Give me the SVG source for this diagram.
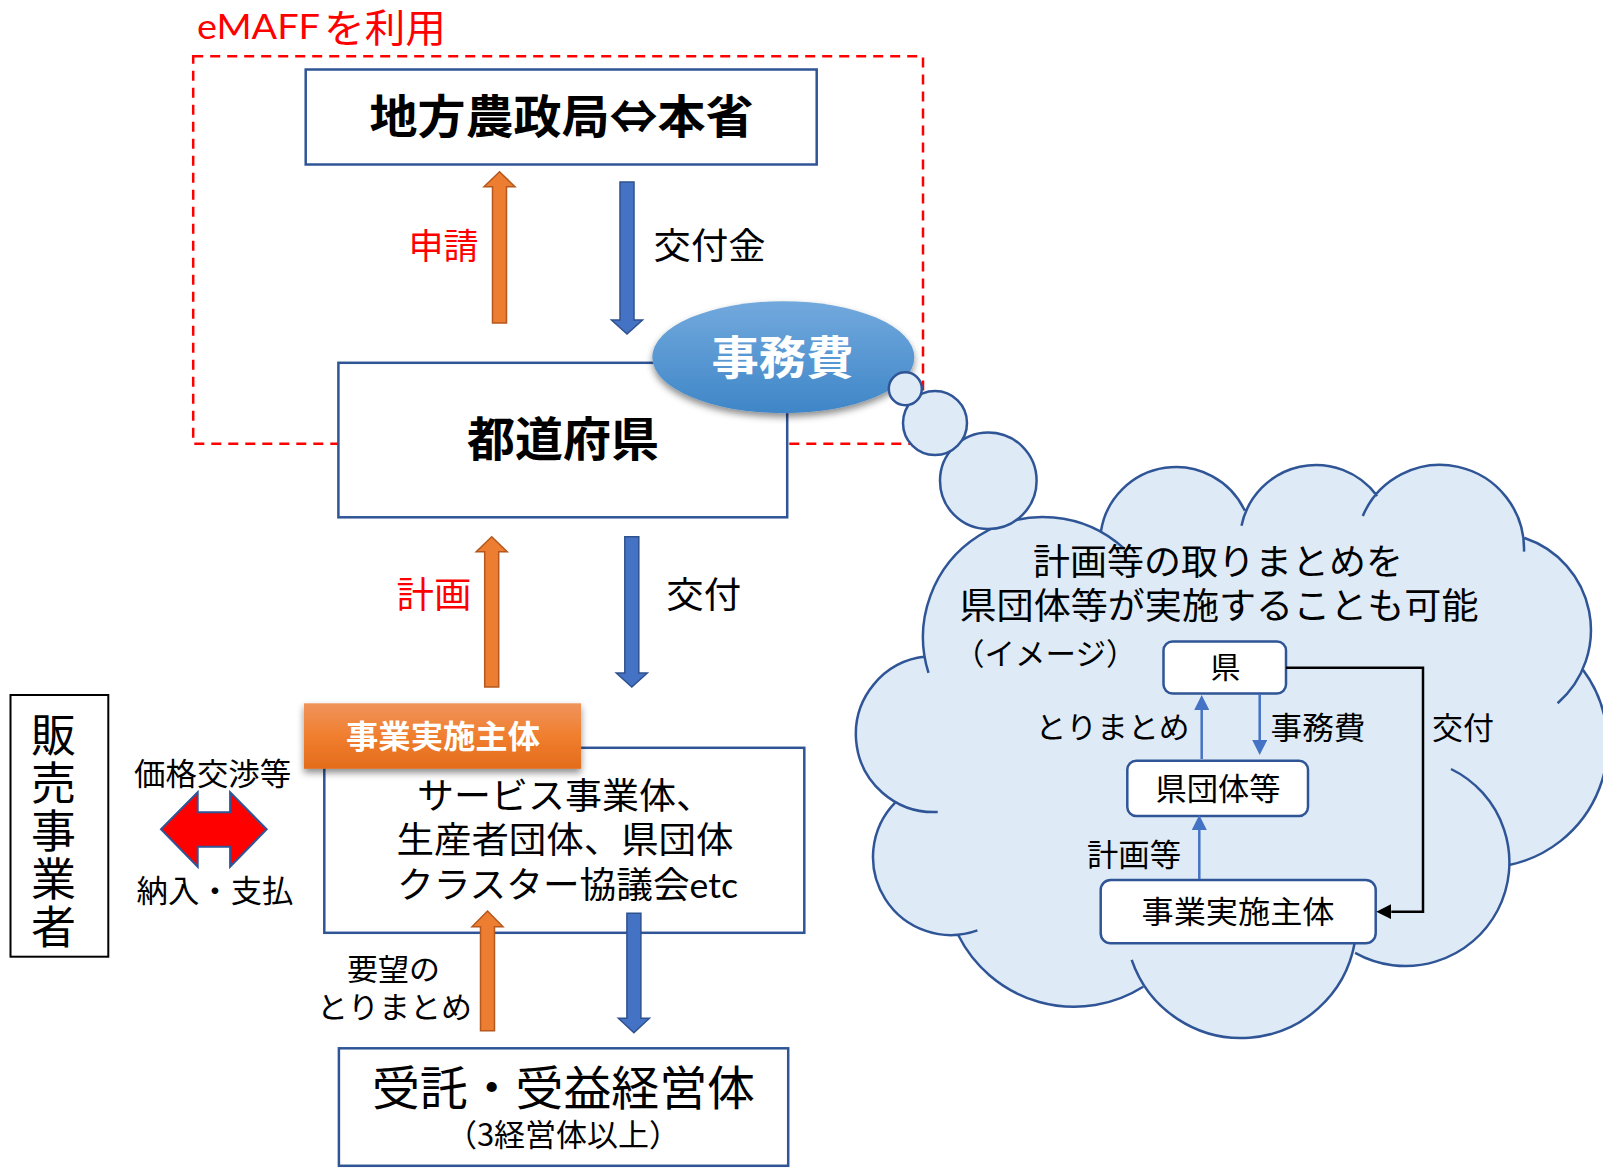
<svg xmlns="http://www.w3.org/2000/svg" width="1603" height="1168" viewBox="0 0 1603 1168">
<style>
.jp{font-family:'Noto Sans CJK JP','Noto Sans CJK SC',sans-serif}
.lat{font-family:Lato,'Noto Sans CJK JP',sans-serif}
.k{fill:#000}
.r{fill:#FF0000}
.w{fill:#fff}
.b{font-weight:700}
.box{fill:#fff;stroke:#2F5597;stroke-width:2.5}
.rbox{fill:#fff;stroke:#2F5597;stroke-width:2.5}
.oa{fill:#ED7D31;stroke:#B4581E;stroke-width:1.5}
.ba{fill:#4472C4;stroke:#2F528F;stroke-width:1.5}
.cf{fill:#DEEBF7}
.cl{fill:none;stroke:#2F5597;stroke-width:2.5}
.bub{fill:#DEEBF7;stroke:#2F5597;stroke-width:2.5}
.thin{fill:none;stroke:#4472C4;stroke-width:2.5}
.blk{fill:none;stroke:#000;stroke-width:2.5}
</style>
<defs>
<linearGradient id="gEll" x1="0" y1="0" x2="0" y2="1">
<stop offset="0" stop-color="#72A9DD"/>
<stop offset="1" stop-color="#3F86C8"/>
</linearGradient>
<linearGradient id="gOr" x1="0" y1="0" x2="0" y2="1">
<stop offset="0" stop-color="#F0945C"/>
<stop offset="0.5" stop-color="#F07E2E"/>
<stop offset="1" stop-color="#E36C1C"/>
</linearGradient>
<filter id="sh" x="-20%" y="-20%" width="140%" height="160%">
<feDropShadow dx="0" dy="4" stdDeviation="3.5" flood-color="#000" flood-opacity="0.45"/>
</filter>
<marker id="mB" markerUnits="userSpaceOnUse" markerWidth="16" markerHeight="15" refX="0" refY="7.5" orient="auto">
<path d="M0,0 L15,7.5 L0,15 Z" fill="#4472C4"/>
</marker>
<marker id="mK" markerUnits="userSpaceOnUse" markerWidth="16" markerHeight="15" refX="0" refY="7.5" orient="auto">
<path d="M0,0 L15,7.5 L0,15 Z" fill="#000"/>
</marker>
</defs>

<rect width="1603" height="1168" fill="#fff"/>

<g id="emaff">
<text class="r"><tspan class="lat" x="197" y="39" font-size="34" textLength="123" lengthAdjust="spacingAndGlyphs">eMAFF</tspan><tspan class="jp" x="324" y="41.5" font-size="39" textLength="122" lengthAdjust="spacingAndGlyphs">を利用</tspan></text>
<rect x="193.2" y="56.2" width="729.8" height="387.5" fill="none" stroke="#FF0000" stroke-width="2.5" stroke-dasharray="10 7"/>
</g>

<g id="honsho">
<rect class="box" x="305.7" y="69.5" width="511" height="95"/>
<text class="jp k b" x="561.5" y="133" font-size="46" text-anchor="middle" textLength="384" lengthAdjust="spacingAndGlyphs">地方農政局⇔本省</text>
</g>

<g id="todofuken">
<rect class="box" x="338.4" y="362.8" width="448.8" height="154.5"/>
<text class="jp k b" x="563" y="456.4" font-size="47" text-anchor="middle" textLength="192" lengthAdjust="spacingAndGlyphs">都道府県</text>
</g>

<g id="jimuhi">
<ellipse cx="783.3" cy="357.2" rx="131" ry="56" fill="url(#gEll)" filter="url(#sh)"/>
<text class="jp w b" x="782.5" y="373.5" font-size="46" text-anchor="middle" textLength="142" lengthAdjust="spacingAndGlyphs">事務費</text>
</g>

<g id="cloud">
<g class="cf">
<circle cx="935" cy="734" r="78"/>
<circle cx="1043" cy="637" r="120"/>
<circle cx="1176" cy="543" r="76"/>
<circle cx="1316" cy="541" r="76"/>
<circle cx="1440" cy="549" r="84"/>
<circle cx="1494" cy="630" r="97"/>
<circle cx="1484" cy="744" r="123.6"/>
<circle cx="1404.4" cy="861.6" r="103.7"/>
<circle cx="1241" cy="922.5" r="115.5"/>
<circle cx="1074" cy="877.3" r="129.4"/>
<circle cx="951" cy="857" r="78"/>
<polygon points="935,734 1043,637 1176,543 1316,541 1440,549 1494,630 1484,744 1404,862 1241,922 1074,877 951,857"/>
</g>
<path class="cl" d="M937.7,812 A78,78 0 0 1 925,656.6 M928.5,672.9 A120,120 0 0 1 1124.2,548.7 M1100.9,531.6 A76,76 0 0 1 1244.8,510.6 M1241.5,525.8 A76,76 0 0 1 1377.2,496 M1362.8,515.9 A84,84 0 0 1 1524,551.6 M1524.6,538 A97,97 0 0 1 1557.6,703.2 M1583.1,670.1 A123.6,123.6 0 0 1 1508.2,865.2 M1451,769 A103.7,103.7 0 1 1 1355.1,952.8 M1354.6,943.3 A115.5,115.5 0 0 1 1131.7,959.9 M1143.2,986.7 A129.4,129.4 0 0 1 958.2,935 M977.4,930.4 A78,78 0 0 1 895.4,802.3"/>
<circle class="bub" cx="988.3" cy="480.7" r="48.3"/>
<circle class="bub" cx="935" cy="423" r="32"/>
<circle class="bub" cx="905.3" cy="388.8" r="16.5"/>
<text class="jp k" x="1033" y="574.7" font-size="36" textLength="370" lengthAdjust="spacingAndGlyphs">計画等の取りまとめを</text>
<text class="jp k" x="959.5" y="619" font-size="36" textLength="519" lengthAdjust="spacingAndGlyphs">県団体等が実施することも可能</text>
<text class="jp k" x="954" y="664.5" font-size="30.5">（イメージ）</text>
</g>

<g id="ken">
<rect class="rbox" x="1163.5" y="641.5" width="122.5" height="52" rx="9"/>
<text class="jp k" x="1225.5" y="677.7" font-size="30" text-anchor="middle">県</text>
</g>

<g id="kendantai">
<rect class="rbox" x="1127.3" y="760.7" width="180.7" height="55.3" rx="9"/>
<text class="jp k" x="1218" y="800" font-size="31" text-anchor="middle" textLength="125" lengthAdjust="spacingAndGlyphs">県団体等</text>
</g>

<g id="jigyo-small">
<rect class="rbox" x="1100.7" y="880" width="275" height="63.3" rx="10"/>
<text class="jp k" x="1238" y="923.3" font-size="31" text-anchor="middle" textLength="193" lengthAdjust="spacingAndGlyphs">事業実施主体</text>
</g>

<g id="service">
<rect class="box" x="324.3" y="747.8" width="480" height="185"/>
<text class="jp k" x="417" y="808.7" font-size="36" textLength="296" lengthAdjust="spacingAndGlyphs">サービス事業体、</text>
<text class="jp k" x="396.5" y="852.7" font-size="36" textLength="337" lengthAdjust="spacingAndGlyphs">生産者団体、県団体</text>
<text class="k" x="397" y="897.7" textLength="341" lengthAdjust="spacingAndGlyphs"><tspan class="jp" font-size="36">クラスター協議会</tspan><tspan class="lat" font-size="35">etc</tspan></text>
</g>

<g id="jigyo-header">
<rect x="303.9" y="703.3" width="277.2" height="65.5" fill="url(#gOr)" filter="url(#sh)"/>
<text class="jp w b" x="443" y="748" font-size="32" text-anchor="middle" textLength="194" lengthAdjust="spacingAndGlyphs">事業実施主体</text>
</g>

<g id="hanbai">
<rect x="10.5" y="695" width="97.8" height="261.7" fill="#fff" stroke="#000" stroke-width="2"/>
<text class="jp k" x="53.6" y="712.5" font-size="45" letter-spacing="3" style="writing-mode:vertical-rl">販売事業者</text>
</g>

<g id="jueki">
<rect class="box" x="338.9" y="1048.3" width="449.3" height="117.5"/>
<text class="jp k" x="563.5" y="1104.5" font-size="47" text-anchor="middle" textLength="383" lengthAdjust="spacingAndGlyphs">受託・受益経営体</text>
<text class="jp k" x="563" y="1145.6" font-size="31" text-anchor="middle">（3経営体以上）</text>
</g>

<g id="connectors">
<path class="oa" d="M499.5,171.7 L515,186.7 L506.5,186.7 L506.5,323 L492.5,323 L492.5,186.7 L484,186.7 Z"/>
<path class="ba" d="M620,182 L634,182 L634,320 L642.5,320 L627,334 L611.5,320 L620,320 Z"/>
<path class="oa" d="M491.7,536.7 L507.2,551.7 L498.7,551.7 L498.7,687 L484.7,687 L484.7,551.7 L476.2,551.7 Z"/>
<path class="ba" d="M624.8,536.7 L638.8,536.7 L638.8,673 L647.3,673 L631.8,687 L616.3,673 L624.8,673 Z"/>
<path class="oa" d="M487.5,911 L503,926.7 L494.5,926.7 L494.5,1030.7 L480.5,1030.7 L480.5,926.7 L472,926.7 Z"/>
<path class="ba" d="M626.9,913.3 L640.9,913.3 L640.9,1018.3 L649.4,1018.3 L633.9,1032.7 L618.4,1018.3 L626.9,1018.3 Z"/>
<path d="M161,829.3 L197.7,792.3 L197.7,812.3 L230.1,812.3 L230.1,792.3 L266.7,829.3 L230.1,866.7 L230.1,846.7 L197.7,846.7 L197.7,866.7 Z" fill="#FF0000" stroke="#2F5597" stroke-width="2"/>
<path class="thin" d="M1201.7,759 V710" marker-end="url(#mB)"/>
<path class="thin" d="M1259.7,694 V740" marker-end="url(#mB)"/>
<path class="thin" d="M1199.3,879 V830" marker-end="url(#mB)"/>
<path class="blk" d="M1286,667.7 H1423 V911.7 H1391.3" marker-end="url(#mK)"/>
<text class="jp r" x="443.5" y="259.3" font-size="35" text-anchor="middle" textLength="70" lengthAdjust="spacingAndGlyphs">申請</text>
<text class="jp k" x="709.6" y="259.3" font-size="36" text-anchor="middle" textLength="112" lengthAdjust="spacingAndGlyphs">交付金</text>
<text class="jp r" x="434" y="607.7" font-size="36" text-anchor="middle" textLength="75" lengthAdjust="spacingAndGlyphs">計画</text>
<text class="jp k" x="703.8" y="607.7" font-size="36" text-anchor="middle" textLength="75" lengthAdjust="spacingAndGlyphs">交付</text>
<text class="jp k" x="212.6" y="785" font-size="31" text-anchor="middle" textLength="157" lengthAdjust="spacingAndGlyphs">価格交渉等</text>
<text class="jp k" x="215" y="901.5" font-size="31" text-anchor="middle" textLength="157" lengthAdjust="spacingAndGlyphs">納入・支払</text>
<text class="jp k" x="393.5" y="980.4" font-size="30" text-anchor="middle" textLength="93" lengthAdjust="spacingAndGlyphs">要望の</text>
<text class="jp k" x="394.4" y="1018" font-size="30" text-anchor="middle" textLength="155" lengthAdjust="spacingAndGlyphs">とりまとめ</text>
<text class="jp k" x="1112.5" y="738.4" font-size="30" text-anchor="middle" textLength="154" lengthAdjust="spacingAndGlyphs">とりまとめ</text>
<text class="jp k" x="1318" y="738.8" font-size="31" text-anchor="middle" textLength="95" lengthAdjust="spacingAndGlyphs">事務費</text>
<text class="jp k" x="1463" y="738.8" font-size="31" text-anchor="middle" textLength="62" lengthAdjust="spacingAndGlyphs">交付</text>
<text class="jp k" x="1134" y="865.8" font-size="31" text-anchor="middle" textLength="94" lengthAdjust="spacingAndGlyphs">計画等</text>
</g>
</svg>
